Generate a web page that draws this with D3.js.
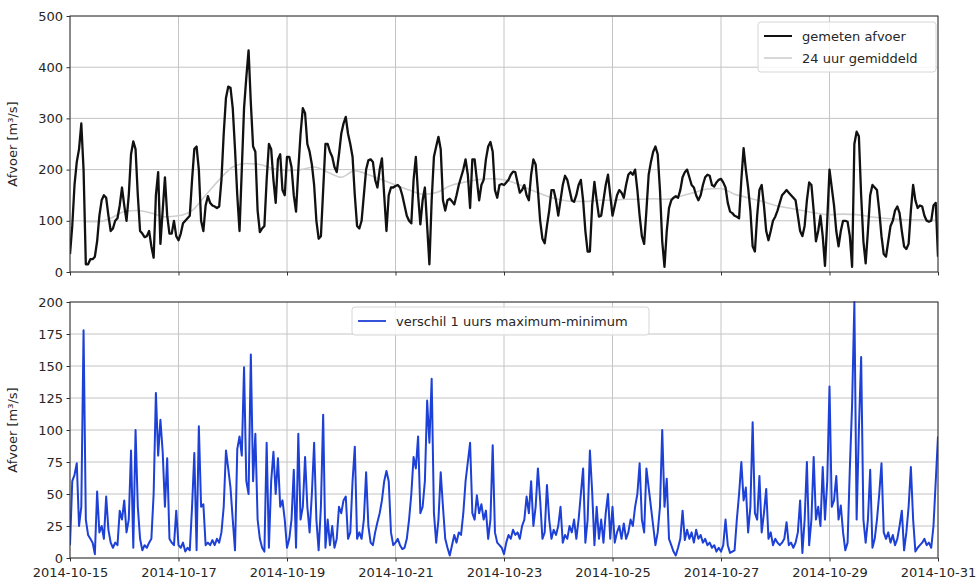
<!DOCTYPE html>
<html>
<head>
<meta charset="utf-8">
<script src="https://cdn.jsdelivr.net/npm/d3@7"></script>
<style>
  html, body { margin: 0; padding: 0; background: #fff; }
  svg { display: block; font-family: "DejaVu Sans", sans-serif; }
</style>
</head>
<body>
<svg id="chart" width="980" height="583"></svg>
<script>
// Hourly discharge from 2014-10-15 00:00 to 2014-10-31 00:00
const startDate = "2014-10-15T00:00:00Z";
const endDate = "2014-10-31T00:00:00Z";

// measured discharge [m3/s], one value per hour
const gemetenAfvoer = [
  35, 90, 170, 215, 240, 290, 200, 15, 15, 25, 25, 30, 60, 110, 140, 150, 145, 110, 80, 85,
  100, 105, 130, 165, 130, 100, 150, 230, 255, 240, 150, 80, 75, 68, 70, 80, 50, 28, 150, 195,
  55, 120, 185, 110, 75, 75, 100, 70, 62, 75, 95, 100, 105, 110, 180, 240, 245, 200, 100, 80,
  130, 148, 135, 130, 128, 125, 128, 180, 270, 340, 362, 360, 320, 240, 150, 80, 200, 320, 380, 433,
  330, 245, 235, 120, 78, 85, 90, 180, 250, 240, 180, 135, 220, 230, 160, 150, 225, 225, 205, 150,
  118, 200, 270, 320, 310, 250, 235, 210, 170, 100, 65, 70, 160, 250, 250, 235, 225, 205, 195, 230,
  270, 290, 303, 270, 250, 225, 150, 90, 85, 100, 150, 200, 218, 220, 215, 180, 165, 200, 222, 150,
  80, 150, 165, 165, 168, 170, 165, 150, 130, 110, 100, 95, 180, 225, 150, 93, 140, 165, 90, 15,
  140, 225, 245, 264, 240, 140, 120, 140, 143, 138, 132, 150, 170, 185, 200, 220, 190, 125, 220, 220,
  180, 140, 170, 180, 220, 245, 254, 235, 160, 145, 170, 172, 170, 175, 180, 190, 196, 195, 175, 155,
  160, 170, 150, 140, 190, 220, 210, 160, 100, 65, 56, 90, 120, 160, 160, 140, 110, 140, 170, 188,
  180, 160, 140, 137, 150, 170, 180, 140, 80, 40, 40, 130, 176, 140, 108, 110, 140, 170, 190, 150,
  110, 130, 150, 160, 155, 145, 170, 190, 195, 190, 200, 160, 110, 70, 55, 120, 190, 215, 235, 245,
  230, 160, 60, 10, 80, 125, 140, 145, 148, 145, 160, 185, 195, 200, 185, 170, 165, 150, 140, 150,
  170, 185, 190, 188, 170, 167, 175, 180, 182, 175, 165, 135, 118, 115, 110, 108, 105, 180, 242, 200,
  165, 120, 50, 40, 110, 160, 170, 130, 80, 62, 80, 100, 108, 120, 135, 150, 155, 160, 155, 150,
  145, 140, 110, 80, 70, 90, 140, 175, 170, 120, 60, 80, 110, 70, 12, 100, 200, 165, 130, 80,
  50, 80, 100, 100, 98, 70, 10, 250, 274, 265, 150, 60, 17, 80, 150, 170, 165, 160, 120, 70,
  35, 30, 60, 90, 100, 120, 128, 115, 80, 50, 45, 55, 120, 170, 140, 125, 130, 128, 110, 100,
  98, 100, 130, 135, 30
];

// 24 hour mean discharge, sampled every 6 hours from hour 6
const gemiddeldUren = [
  6, 12, 18, 24, 30, 36, 42, 48, 54, 60, 66, 72, 78, 84, 90, 96, 102, 108, 114, 120,
  126, 132, 138, 144, 150, 156, 162, 168, 174, 180, 186, 192, 198, 204, 210, 216, 222, 228, 234, 240,
  246, 252, 258, 264, 270, 276, 282, 288, 294, 300, 306, 312, 318, 324, 330, 336, 342, 348, 354, 360,
  366, 372, 378, 384
];
const gemiddeld24 = [
  98, 98, 105, 118, 120, 115, 108, 110, 120, 150, 180, 205, 212, 210, 202, 198, 200, 205, 195, 185,
  198, 190, 180, 170, 160, 152, 155, 168, 175, 180, 182, 180, 172, 160, 150, 142, 138, 138, 140, 140,
  142, 142, 143, 142, 148, 155, 162, 163, 152, 145, 138, 130, 125, 120, 115, 112, 113, 112, 108, 105,
  103, 102, 102, 101
];

// hourly difference between maximum and minimum [m3/s]
const verschilMaxMin = [
  10, 60, 65, 74, 25, 40, 178, 30, 18, 15, 12, 3, 52, 20, 25, 15, 48, 22, 12, 8,
  12, 10, 37, 30, 45, 20, 30, 84, 8, 100, 40, 15, 6, 10, 8, 12, 15, 50, 129, 80,
  108, 83, 40, 78, 15, 12, 10, 37, 10, 8, 12, 5, 8, 6, 40, 82, 6, 103, 40, 42,
  10, 12, 10, 14, 10, 15, 12, 20, 40, 84, 70, 55, 30, 6, 85, 95, 80, 149, 60, 50,
  159, 60, 97, 30, 15, 8, 5, 90, 8, 60, 83, 50, 78, 40, 45, 30, 8, 15, 30, 69,
  8, 97, 30, 40, 79, 40, 20, 50, 90, 30, 6, 40, 112, 8, 30, 10, 25, 8, 15, 40,
  35, 45, 48, 15, 20, 60, 87, 15, 20, 15, 30, 67, 25, 12, 10, 20, 28, 35, 45, 60,
  68, 60, 20, 10, 12, 15, 10, 7, 8, 15, 30, 50, 79, 70, 95, 35, 40, 60, 123, 90,
  140, 35, 12, 30, 67, 40, 15, 8, 2, 10, 18, 12, 20, 18, 35, 60, 75, 90, 35, 30,
  49, 35, 42, 30, 37, 15, 30, 88, 20, 12, 10, 8, 3, 12, 18, 15, 22, 18, 20, 15,
  25, 30, 48, 35, 60, 25, 40, 70, 45, 15, 20, 57, 30, 15, 22, 18, 25, 40, 12, 18,
  15, 25, 20, 30, 15, 30, 50, 70, 12, 30, 84, 52, 10, 40, 15, 30, 12, 35, 50, 15,
  40, 12, 20, 25, 15, 27, 15, 20, 30, 25, 40, 50, 74, 30, 20, 70, 55, 40, 25, 10,
  20, 40, 100, 40, 62, 15, 10, 5, 2, 8, 15, 37, 14, 22, 15, 20, 12, 22, 15, 18,
  12, 15, 10, 12, 8, 10, 5, 8, 5, 10, 30, 10, 4, 5, 6, 30, 50, 75, 45, 55,
  20, 40, 106, 35, 30, 64, 20, 35, 54, 15, 20, 10, 15, 12, 10, 12, 15, 28, 10, 12,
  8, 12, 20, 45, 4, 30, 75, 10, 30, 79, 30, 40, 25, 71, 30, 60, 134, 40, 45, 64,
  30, 41, 20, 6, 12, 70, 120, 200, 30, 100, 157, 30, 12, 30, 69, 8, 15, 30, 50, 74,
  20, 15, 20, 12, 18, 10, 15, 25, 37, 6, 20, 40, 71, 30, 5, 8, 10, 12, 15, 10,
  12, 8, 25, 60, 95
];

const xTickLabels = ["2014-10-15", "2014-10-17", "2014-10-19", "2014-10-21",
                     "2014-10-23", "2014-10-25", "2014-10-27", "2014-10-29", "2014-10-31"];
const yTicksTop = [0, 100, 200, 300, 400, 500];
const yTicksBottom = [0, 25, 50, 75, 100, 125, 150, 175, 200];

const seriesNames = ["gemeten afvoer", "24 uur gemiddeld", "verschil 1 uurs maximum-minimum"];
const yLabel = "Afvoer [m³/s]";

// ---- layout ----
const left = 70, right = 938;
const top1 = 16, bottom1 = 272;
const top2 = 302, bottom2 = 558;
const HOUR = 3600e3;
const t0 = new Date(startDate).getTime();
const hourDate = h => new Date(t0 + h * HOUR);

const svg = d3.select("#chart");

const x = d3.scaleUtc()
  .domain([new Date(startDate), new Date(endDate)])
  .range([left, right]);
const yTop = d3.scaleLinear().domain([0, 500]).range([bottom1, top1]);
const yBot = d3.scaleLinear().domain([0, 200]).range([bottom2, top2]);
const tickDates = xTickLabels.map(s => new Date(s + "T00:00:00Z"));

const gridColor = "#c4c4c4";
const textColor = "#262626";
const fontSize = 13;

function panel(y, yTicks, yTop0, yBottom0, showXLabels) {
  const g = svg.append("g");
  // grid
  g.append("g").selectAll("line.gx").data(tickDates).join("line")
    .attr("x1", d => x(d)).attr("x2", d => x(d))
    .attr("y1", yTop0).attr("y2", yBottom0)
    .attr("stroke", gridColor).attr("stroke-width", 1);
  g.append("g").selectAll("line.gy").data(yTicks).join("line")
    .attr("x1", left).attr("x2", right)
    .attr("y1", d => y(d)).attr("y2", d => y(d))
    .attr("stroke", gridColor).attr("stroke-width", 1);

  // axes
  const ax = g.append("g").attr("transform", `translate(0,${yBottom0})`)
    .call(d3.axisBottom(x).tickValues(tickDates)
      .tickFormat(showXLabels ? d3.utcFormat("%Y-%m-%d") : () => "")
      .tickSize(3.5).tickPadding(6));
  const ay = g.append("g").attr("transform", `translate(${left},0)`)
    .call(d3.axisLeft(y).tickValues(yTicks).tickSize(3.5).tickPadding(3.5));
  [ax, ay].forEach(a => {
    a.select(".domain").remove();
    a.selectAll(".tick line").attr("stroke", "#333").attr("stroke-width", 1);
    a.selectAll(".tick text").attr("fill", textColor)
      .style("font-size", fontSize + "px").style("font-family", "DejaVu Sans, sans-serif");
  });

  // y label
  g.append("text")
    .attr("transform", `translate(17,${(yTop0 + yBottom0) / 2}) rotate(-90)`)
    .attr("text-anchor", "middle")
    .attr("fill", textColor)
    .style("font-size", fontSize + "px")
    .text(yLabel);
  return g;
}

const g1 = panel(yTop, yTicksTop, top1, bottom1, false);
const g2 = panel(yBot, yTicksBottom, top2, bottom2, true);

// clip paths
svg.append("clipPath").attr("id", "clip1").append("rect")
  .attr("x", left).attr("y", top1).attr("width", right - left).attr("height", bottom1 - top1);
svg.append("clipPath").attr("id", "clip2").append("rect")
  .attr("x", left).attr("y", top2 - 1).attr("width", right - left).attr("height", bottom2 - top2 + 1);

// 24h mean (light grey)
const lineMean = d3.line()
  .x((d, i) => x(hourDate(gemiddeldUren[i])))
  .y(d => yTop(d))
  .curve(d3.curveMonotoneX);
g1.append("path").datum(gemiddeld24)
  .attr("clip-path", "url(#clip1)")
  .attr("d", lineMean)
  .attr("fill", "none").attr("stroke", "#cfcfcf").attr("stroke-width", 1.6);

// measured discharge (black)
const lineHourTop = d3.line()
  .x((d, i) => x(hourDate(i)))
  .y(d => yTop(d));
g1.append("path").datum(gemetenAfvoer)
  .attr("clip-path", "url(#clip1)")
  .attr("d", lineHourTop)
  .attr("fill", "none").attr("stroke", "#111").attr("stroke-width", 2.3)
  .attr("stroke-linejoin", "round");

// max-min difference (blue)
const lineHourBot = d3.line()
  .x((d, i) => x(hourDate(i)))
  .y(d => yBot(d));
g2.append("path").datum(verschilMaxMin)
  .attr("clip-path", "url(#clip2)")
  .attr("d", lineHourBot)
  .attr("fill", "none").attr("stroke", "#1d40d6").attr("stroke-width", 2)
  .attr("stroke-linejoin", "round");

// frames
[[top1, bottom1], [top2, bottom2]].forEach(([t, b]) => {
  svg.append("rect").attr("x", left).attr("y", t)
    .attr("width", right - left).attr("height", b - t)
    .attr("fill", "none").attr("stroke", "#333").attr("stroke-width", 1);
});

// legends
function legend(xL, yL, w, items) {
  const g = svg.append("g").attr("transform", `translate(${xL},${yL})`);
  const h = items.length * 22 + 6;
  g.append("rect").attr("width", w).attr("height", h).attr("rx", 3)
    .attr("fill", "#fff").attr("fill-opacity", 0.85)
    .attr("stroke", "#d6d6d6").attr("stroke-width", 1);
  items.forEach((it, i) => {
    const cy = 14 + i * 22;
    g.append("line").attr("x1", 6).attr("x2", 34).attr("y1", cy).attr("y2", cy)
      .attr("stroke", it.color).attr("stroke-width", it.width);
    g.append("text").attr("x", 44).attr("y", cy).attr("dy", "0.35em")
      .attr("fill", textColor).style("font-size", fontSize + "px").text(it.name);
  });
}
legend(758, 22, 178, [
  { name: seriesNames[0], color: "#111", width: 2 },
  { name: seriesNames[1], color: "#cfcfcf", width: 1.6 }
]);
legend(352, 307, 297, [
  { name: seriesNames[2], color: "#1d40d6", width: 1.8 }
]);
</script>
</body>
</html>
